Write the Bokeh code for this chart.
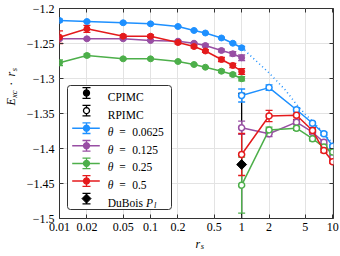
import numpy as np
from bokeh.plotting import figure
from bokeh.layouts import row, column
from bokeh.models import (ColumnDataSource, Whisker, TeeHead, FixedTicker, LogAxis, LinearAxis,
                          BoxAnnotation, Arrow, PolyAnnotation, Label, Range1d,
                          CustomJSTickFormatter)
from bokeh.embed import file_html
from bokeh.resources import INLINE

# ---------------- data ----------------
rs_cpimc = [0.01, 0.02, 0.05, 0.1, 0.2, 0.3, 0.4, 0.6, 0.8, 1.0]
rs_rpimc = [1, 2, 4, 6, 8, 10]
theta_labels = ["0.0625", "0.125", "0.25", "0.5"]
colors = ["#1E90FF", "#984EA3", "#4DAF4A", "#E41A1C"]

cpimc_0625 = [-1.2171, -1.2186, -1.2204, -1.2219, -1.2257, -1.2314, -1.2350, -1.2421, -1.2496, -1.2561]
cpimc_0125 = [-1.2433, -1.2433, -1.2433, -1.2457, -1.2467, -1.2496, -1.2529, -1.2600, -1.2647, -1.2704]
cpimc_025 = [-1.2776, -1.2671, -1.2719, -1.2719, -1.2757, -1.2800, -1.2839, -1.2896, -1.2943, -1.3004]
cpimc_05 = [-1.2410, -1.2290, -1.2396, -1.2396, -1.2486, -1.2543, -1.2607, -1.2729, -1.2814, -1.2900]

cpimc_err_0625 = [0.002, 0.001, 0.001, 0.001, 0.001, 0.001, 0.001, 0.001, 0.001, 0.002]
cpimc_err_0125 = [0.001, 0.001, 0.001, 0.001, 0.001, 0.001, 0.002, 0.002, 0.003, 0.004]
cpimc_err_025 = [0.004, 0.002, 0.001, 0.001, 0.001, 0.001, 0.001, 0.002, 0.002, 0.003]
cpimc_err_05 = [0.009, 0.005, 0.002, 0.002, 0.002, 0.002, 0.002, 0.003, 0.003, 0.004]

rpimc_0625 = [-1.3243, -1.3130, -1.3447, -1.3639, -1.3790, -1.3967]
rpimc_0125 = [-1.3704, -1.3790, -1.3624, -1.3767, -1.3910, -1.4124]
rpimc_025 = [-1.4524, -1.3735, -1.3710, -1.3860, -1.3980, -1.4050]
rpimc_05 = [-1.4086, -1.3535, -1.3525, -1.3743, -1.4029, -1.4190]

rpimc_err_0625 = [0.0093, 0.004, 0.003, 0.002, 0.002, 0.002]
rpimc_err_0125 = [0.0095, 0.004, 0.003, 0.003, 0.003, 0.003]
rpimc_err_025 = [0.040, 0.004, 0.003, 0.003, 0.003, 0.003]
rpimc_err_05 = [0.030, 0.008, 0.006, 0.004, 0.003, 0.002]

gs_rs = [1, 2, 3, 4, 5, 6, 8, 10]
gs_vals = [-1.2557, -1.292, -1.316, -1.337, -1.351, -1.361, -1.378, -1.393]

dubois_rs = [1.0]
dubois_val = [-1.4229]
dubois_err = [0.1015]

x_ticks = [0.01, 0.02, 0.05, 0.1, 0.2, 0.5, 1, 2, 5, 10]
x_tick_labels = ["0.01", "0.02", "0.05", "0.1", "0.2", "0.5", "1", "2", "5", "10"]
y_ticks = [-1.5, -1.45, -1.4, -1.35, -1.3, -1.25, -1.2]
y_tick_labels = ["\u22121.5", "\u22121.45", "\u22121.4", "\u22121.35", "\u22121.3", "\u22121.25", "\u22121.2"]

cpimc_all = [cpimc_0625, cpimc_0125, cpimc_025, cpimc_05]
cpimc_err_all = [cpimc_err_0625, cpimc_err_0125, cpimc_err_025, cpimc_err_05]
rpimc_all = [rpimc_0625, rpimc_0125, rpimc_025, rpimc_05]
rpimc_err_all = [rpimc_err_0625, rpimc_err_0125, rpimc_err_025, rpimc_err_05]

SERIF = "Liberation Serif"
S = "screen"

LOOKUP = """
for (let i = 0; i < vals.length; i++) {
  if (Math.abs(vals[i] - tick) <= 1e-6 * Math.max(1, Math.abs(tick))) return labs[i];
}
return "";
"""

# ---------------- main figure ----------------
p = figure(width=320, height=236, x_axis_type="log",
           x_range=Range1d(0.01, 10.2), y_range=Range1d(-1.5, -1.2),
           output_backend="svg", toolbar_location=None,
           min_border_left=39, min_border_right=7, min_border_top=8, min_border_bottom=18)
p.background_fill_color = "white"
p.border_fill_color = "white"
p.outline_line_color = "#333333"
p.outline_line_width = 1
p.outline_line_alpha = 1

xt = FixedTicker(ticks=x_ticks)
yt = FixedTicker(ticks=y_ticks)
p.xaxis.ticker = xt
p.yaxis.ticker = yt
p.xgrid.ticker = xt
p.ygrid.ticker = yt
p.xgrid.grid_line_color = "#e3e3e3"
p.ygrid.grid_line_color = "#e3e3e3"

p.xaxis.formatter = CustomJSTickFormatter(args=dict(vals=x_ticks, labs=x_tick_labels), code=LOOKUP)
p.yaxis.formatter = CustomJSTickFormatter(args=dict(vals=y_ticks, labs=y_tick_labels), code=LOOKUP)

for ax in (p.xaxis[0], p.yaxis[0]):
    ax.axis_line_color = None
    ax.major_tick_in = 4
    ax.major_tick_out = 0
    ax.minor_tick_in = 0
    ax.minor_tick_out = 0
    ax.major_tick_line_color = "#333333"
    ax.major_label_text_font = SERIF
    ax.major_label_text_font_size = "12px"
    ax.major_label_text_color = "black"
p.xaxis.major_label_standoff = 4
p.yaxis.major_label_standoff = 5

empty_fmt = CustomJSTickFormatter(code="return '';")
top_ax = LogAxis(ticker=xt, formatter=empty_fmt, major_label_text_font_size="0px",
                 major_label_standoff=0, major_tick_in=4, major_tick_out=0,
                 minor_tick_in=0, minor_tick_out=0, axis_line_color=None,
                 major_tick_line_color="#333333")
right_ax = LinearAxis(ticker=yt, formatter=empty_fmt, major_label_text_font_size="0px",
                      major_label_standoff=0, major_tick_in=4, major_tick_out=0,
                      minor_tick_in=0, minor_tick_out=0, axis_line_color=None,
                      major_tick_line_color="#333333")
p.add_layout(top_ax, "above")
p.add_layout(right_ax, "right")

# ---------------- data marks ----------------
src_db = ColumnDataSource(dict(x=dubois_rs, y=dubois_val,
                               lo=[v - e for v, e in zip(dubois_val, dubois_err)],
                               hi=[v + e for v, e in zip(dubois_val, dubois_err)]))
p.add_layout(Whisker(source=src_db, base="x", upper="hi", lower="lo", dimension="height",
                     line_color="black", line_width=1.3,
                     upper_head=TeeHead(size=7, line_color="black", line_width=1.3),
                     lower_head=TeeHead(size=7, line_color="black", line_width=1.3)))

p.line(gs_rs, gs_vals, line_color=colors[0], line_width=1.6, line_dash="1 3")

for vals, errs, col in zip(cpimc_all, cpimc_err_all, colors):
    src = ColumnDataSource(dict(x=rs_cpimc, y=vals,
                                lo=[v - e for v, e in zip(vals, errs)],
                                hi=[v + e for v, e in zip(vals, errs)]))
    p.line("x", "y", source=src, line_color=col, line_width=1.5)
    p.add_layout(Whisker(source=src, base="x", upper="hi", lower="lo", dimension="height",
                         line_color=col, line_width=1.3,
                         upper_head=TeeHead(size=7, line_color=col, line_width=1.3),
                         lower_head=TeeHead(size=7, line_color=col, line_width=1.3)))
    p.scatter("x", "y", source=src, size=6, fill_color=col, line_color=col)

for vals, errs, col in zip(rpimc_all, rpimc_err_all, colors):
    src = ColumnDataSource(dict(x=rs_rpimc, y=vals,
                                lo=[v - e for v, e in zip(vals, errs)],
                                hi=[v + e for v, e in zip(vals, errs)]))
    p.line("x", "y", source=src, line_color=col, line_width=1.5)
    p.add_layout(Whisker(source=src, base="x", upper="hi", lower="lo", dimension="height",
                         line_color=col, line_width=1.3,
                         upper_head=TeeHead(size=7, line_color=col, line_width=1.3),
                         lower_head=TeeHead(size=7, line_color=col, line_width=1.3)))
    p.scatter("x", "y", source=src, size=6, fill_color="white", line_color=col, line_width=1.5)

p.scatter(dubois_rs, dubois_val, marker="square", angle=np.pi / 4, size=7,
          fill_color="black", line_color="black")

# ---------------- legend (screen units, relative to frame) ----------------
p.add_layout(BoxAnnotation(left=8, right=112, top=133, bottom=9,
                           left_units=S, right_units=S, top_units=S, bottom_units=S,
                           fill_color="white", fill_alpha=1, line_color="#333333",
                           line_width=1, line_alpha=1, border_radius=3))

entry_y = [125.5, 107.9, 90.3, 72.7, 55.1, 37.5, 19.9]
sym_x = 27
line_x0, line_x1 = 12.7, 40.3
text_x = 48.3
FS = "11.5px"


def circle_poly(cx, cy, r, n=20):
    t = np.linspace(0, 2 * np.pi, n, endpoint=False)
    return list(cx + r * np.cos(t)), list(cy + r * np.sin(t))


def errbar(y, col):
    p.add_layout(Arrow(x_start=sym_x, y_start=y - 5.3, x_end=sym_x, y_end=y + 5.3,
                       start_units=S, end_units=S, line_color=col, line_width=1.3,
                       start=TeeHead(size=8, line_color=col, line_width=1.3),
                       end=TeeHead(size=8, line_color=col, line_width=1.3)))


def hline(y, col):
    p.add_layout(Arrow(x_start=line_x0, y_start=y, x_end=line_x1, y_end=y,
                       start_units=S, end_units=S, line_color=col, line_width=1.5,
                       start=None, end=None))


def marker(y, col, fill):
    xs, ys = circle_poly(sym_x, y, 3.0)
    p.add_layout(PolyAnnotation(xs=xs, ys=ys, xs_units=S, ys_units=S,
                                fill_color=fill, fill_alpha=1, line_color=col,
                                line_width=1.3, line_alpha=1))


def text(fig, x, y, s, size=FS, style="normal", align="left", angle=0.0):
    fig.add_layout(Label(x=x, y=y, x_units=S, y_units=S, text=s, text_font=SERIF,
                         text_font_size=size, text_font_style=style, text_color="black",
                         text_align=align, text_baseline="alphabetic", angle=angle))


errbar(entry_y[0], "black"); marker(entry_y[0], "black", "black")
text(p, text_x, entry_y[0] - 3.9, "CPIMC")
errbar(entry_y[1], "black"); marker(entry_y[1], "black", "white")
text(p, text_x, entry_y[1] - 3.9, "RPIMC")
for i, (lab, col) in enumerate(zip(theta_labels, colors)):
    y = entry_y[2 + i]
    hline(y, col); errbar(y, col); marker(y, col, col)
    text(p, text_x, y - 3.9, "\u03b8", style="italic")
    text(p, 63, y - 3.9, "=", align="center")
    text(p, 72.7, y - 3.9, lab)
y = entry_y[6]
errbar(y, "black")
p.add_layout(PolyAnnotation(xs=[sym_x - 4.5, sym_x, sym_x + 4.5, sym_x],
                            ys=[y, y + 4.5, y, y - 4.5], xs_units=S, ys_units=S,
                            fill_color="black", fill_alpha=1, line_color="black", line_alpha=1))
text(p, text_x, y - 3.9, "DuBois")
text(p, 86.5, y - 3.9, "P", style="italic")
text(p, 94.5, y - 6.4, "l", size="8.5px", style="italic")


# ---------------- label strips ----------------
def strip(w, h):
    f = figure(width=w, height=h, x_range=Range1d(0, w), y_range=Range1d(0, h),
               output_backend="svg", toolbar_location=None,
               x_axis_location=None, y_axis_location=None,
               min_border=0, min_border_left=0, min_border_right=0,
               min_border_top=0, min_border_bottom=0)
    f.outline_line_color = None
    f.xgrid.visible = False
    f.ygrid.visible = False
    f.background_fill_color = "white"
    f.border_fill_color = "white"
    return f


ylab = strip(20, 236)
A = np.pi / 2
text(ylab, 10.5, 113, "E", size="12px", style="italic", angle=A)
text(ylab, 13.0, 120.5, "xc", size="8.5px", style="italic", angle=A)
text(ylab, 10.5, 134.8, "\u00b7", size="12px", align="center", angle=A)
text(ylab, 10.5, 142, "r", size="12px", style="italic", angle=A)
text(ylab, 13.0, 147.3, "s", size="8.5px", style="italic", angle=A)

xlab = strip(340, 20)
text(xlab, 195, 13, "r", size="12px", style="italic")
text(xlab, 200.3, 10.5, "s", size="8.5px", style="italic")

layout = column(row(ylab, p, spacing=0), xlab, spacing=0)

open("out.html", "w").write(file_html(layout, INLINE))
